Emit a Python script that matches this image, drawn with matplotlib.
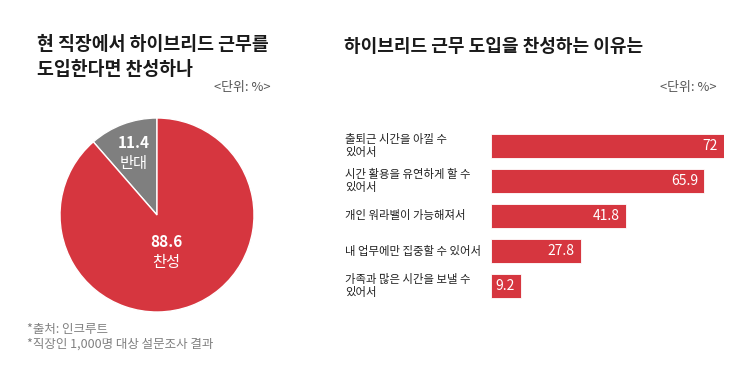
import matplotlib
matplotlib.use("Agg")
import matplotlib.pyplot as plt
from matplotlib.transforms import blended_transform_factory, offset_copy

plt.rcParams["font.family"] = ["Noto Sans CJK KR", "DejaVu Sans"]

RED = "#D6363F"
GRAY = "#7F7F7F"

pie_labels = ["반대", "찬성"]
pie_values = [11.4, 88.6]

reasons = [
    "출퇴근 시간을 아낄 수\n있어서",
    "시간 활용을 유연하게 할 수\n있어서",
    "개인 워라밸이 가능해져서",
    "내 업무에만 집중할 수 있어서",
    "가족과 많은 시간을 보낼 수\n있어서",
]
reason_values = [72, 65.9, 41.8, 27.8, 9.2]
value_texts = ["72", "65.9", "41.8", "27.8", "9.2"]

W, H = 750, 378
fig = plt.figure(figsize=(7.5, 3.78), dpi=100)
fig.patch.set_facecolor("white")


def px(x, y):
    return x / W, 1 - y / H


# left titles
fig.text(*px(37, 57), "현 직장에서 하이브리드 근무를\n도입한다면 찬성하나",
         fontsize=13.2, fontweight="bold", color="#1a1a1a", va="center",
         linespacing=1.45)
fig.text(*px(270, 87), "<단위: %>", fontsize=9.3, color="#555555",
         ha="right", va="center")

# right titles
fig.text(*px(344, 47), "하이브리드 근무 도입을 찬성하는 이유는",
         fontsize=13, fontweight="bold", color="#1a1a1a", va="center")
fig.text(*px(716, 87), "<단위: %>", fontsize=9.3, color="#555555",
         ha="right", va="center")

# footnotes
fig.text(*px(27, 329), "*출처: 인크루트", fontsize=9, color="#808080", va="center")
fig.text(*px(27, 344), "*직장인 1,000명 대상 설문조사 결과", fontsize=9,
         color="#808080", va="center")

# pie
cx, cy, r = 157, 215, 97
ax_pie = fig.add_axes([(cx - r) / W, 1 - (cy + r) / H, 2 * r / W, 2 * r / H])
wedges, _ = ax_pie.pie(pie_values, colors=[GRAY, RED], startangle=90,
                       counterclock=True,
                       wedgeprops=dict(edgecolor="white", linewidth=1))
ax_pie.set_xlim(-1, 1)
ax_pie.set_ylim(-1, 1)
ax_pie.set_aspect("equal")
ax_pie.axis("off")

ax_pie.text(-0.24, 0.74, f"{pie_values[0]}", ha="center", va="center",
            fontsize=11, fontweight="bold", color="white")
ax_pie.text(-0.24, 0.53, pie_labels[0], ha="center", va="center",
            fontsize=11, color="white")
ax_pie.text(0.1, -0.28, f"{pie_values[1]}", ha="center", va="center",
            fontsize=11, fontweight="bold", color="white")
ax_pie.text(0.1, -0.49, pie_labels[1], ha="center", va="center",
            fontsize=11, color="white")

# bars
x0, x1 = 491, 724
y_top, slot = 128.5, 35
n = len(reasons)
ax_bar = fig.add_axes([x0 / W, 1 - (y_top + slot * n) / H,
                       (x1 - x0) / W, slot * n / H])
ypos = list(range(n))
ax_bar.barh(ypos, reason_values, height=24 / 35, color=RED,
            edgecolor="white", linewidth=0.6)
ax_bar.set_xlim(0, max(reason_values))
ax_bar.set_ylim(n - 0.5, -0.5)
ax_bar.axis("off")

label_tf = blended_transform_factory(fig.transFigure, ax_bar.transData)
for i, (lab, v, t) in enumerate(zip(reasons, reason_values, value_texts)):
    fig.text(345 / W, i, lab, transform=label_tf, fontsize=8.2,
             color="#222222", ha="left", va="center", linespacing=1.3)
    tf = offset_copy(ax_bar.transData, fig=fig, x=-4.5, y=0, units="points")
    ax_bar.text(v, i, t, transform=tf, ha="right", va="center",
                fontsize=10, color="white")

fig.savefig("out.png", dpi=100, facecolor="white")
